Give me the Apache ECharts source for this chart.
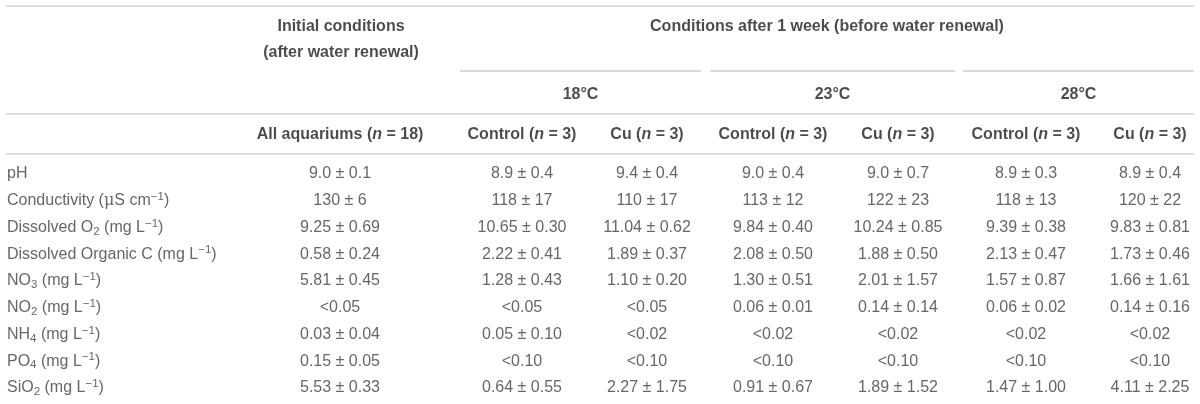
<!DOCTYPE html>
<html><head><meta charset="utf-8">
<script src="https://cdn.jsdelivr.net/npm/echarts@6/dist/echarts.min.js"></script>
<style>html,body{margin:0;padding:0;background:#fff}#c{width:1200px;height:404px}</style>
</head><body><div id="c"></div>
<script>
// ---------- data ----------
const parameters = [
  'pH',
  'Conductivity ({mu|μ}S cm{sup|−1})',
  'Dissolved O{sub|2} (mg L{sup|−1})',
  'Dissolved Organic C (mg L{sup|−1})',
  'NO{sub|3} (mg L{sup|−1})',
  'NO{sub|2} (mg L{sup|−1})',
  'NH{sub|4} (mg L{sup|−1})',
  'PO{sub|4} (mg L{sup|−1})',
  'SiO{sub|2} (mg L{sup|−1})'
];
const initialAll = ['9.0 ± 0.1','130 ± 6','9.25 ± 0.69','0.58 ± 0.24','5.81 ± 0.45','<0.05','0.03 ± 0.04','0.15 ± 0.05','5.53 ± 0.33'];
const control18 = ['8.9 ± 0.4','118 ± 17','10.65 ± 0.30','2.22 ± 0.41','1.28 ± 0.43','<0.05','0.05 ± 0.10','<0.10','0.64 ± 0.55'];
const cu18      = ['9.4 ± 0.4','110 ± 17','11.04 ± 0.62','1.89 ± 0.37','1.10 ± 0.20','<0.05','<0.02','<0.10','2.27 ± 1.75'];
const control23 = ['9.0 ± 0.4','113 ± 12','9.84 ± 0.40','2.08 ± 0.50','1.30 ± 0.51','0.06 ± 0.01','<0.02','<0.10','0.91 ± 0.67'];
const cu23      = ['9.0 ± 0.7','122 ± 23','10.24 ± 0.85','1.88 ± 0.50','2.01 ± 1.57','0.14 ± 0.14','<0.02','<0.10','1.89 ± 1.52'];
const control28 = ['8.9 ± 0.3','118 ± 13','9.39 ± 0.38','2.13 ± 0.47','1.57 ± 0.87','0.06 ± 0.02','<0.02','<0.10','1.47 ± 1.00'];
const cu28      = ['8.9 ± 0.4','120 ± 22','9.83 ± 0.81','1.73 ± 0.46','1.66 ± 1.61','0.14 ± 0.16','<0.02','<0.10','4.11 ± 2.25'];

const initialTitle = ['Initial conditions', '(after water renewal)'];
const periodTitle = 'Conditions after 1 week (before water renewal)';
const temperatures = ['18°C', '23°C', '28°C'];
const treatments = ['All aquariums ({it|n} = 18)', 'Control ({it|n} = 3)', 'Cu ({it|n} = 3)',
  'Control ({it|n} = 3)', 'Cu ({it|n} = 3)', 'Control ({it|n} = 3)', 'Cu ({it|n} = 3)'];

// ---------- layout ----------
const W = 1200, H = 404;
const columns = [initialAll, control18, cu18, control23, cu23, control28, cu28];
const colX = [340, 522, 647, 773, 898, 1026, 1150];
const rowY0 = 174, rowStep = 26.75;
const labelX = 7;
const groupSpans = [[460, 701], [710, 955], [963, 1194]];
const bodyColor = '#404040', headColor = '#1e1e1e';
const FONT = '"Liberation Sans", Arial, sans-serif';
const bodySize = 16, headSize = 16;

const richBody = {
  sub: {fontSize: 11.5, verticalAlign: 'bottom', lineHeight: 12, color: bodyColor, fontFamily: FONT},
  sup: {fontSize: 11.5, verticalAlign: 'top', lineHeight: 12, color: bodyColor, fontFamily: FONT},
  mu: {fontSize: bodySize, color: bodyColor, fontFamily: '"DejaVu Serif", serif'}
};
const richHead = {
  it: {fontStyle: 'italic', fontWeight: 'bold', fontSize: headSize, color: headColor, fontFamily: FONT}
};

function textSeries(items, opts) {
  return {
    type: 'scatter', symbolSize: 0, silent: true, animation: false,
    data: items.map(it => ({value: [it.x, it.y], name: it.text})),
    label: Object.assign({
      show: true, position: 'inside', formatter: p => p.name,
      fontFamily: FONT, fontSize: bodySize, color: bodyColor, lineHeight: 20
    }, opts)
  };
}

const series = [];
// row labels
series.push(textSeries(parameters.map((t, i) => ({x: labelX, y: rowY0 + i * rowStep, text: t})),
  {position: 'right', distance: 0, align: 'left', rich: richBody}));
// value cells
columns.forEach((col, c) => {
  series.push(textSeries(col.map((t, i) => ({x: colX[c], y: rowY0 + i * rowStep, text: t})), {}));
});
// headers
const headOpts = {fontWeight: 'bold', fontSize: headSize, color: headColor, rich: richHead};
series.push(textSeries([
  {x: 341, y: 27, text: initialTitle[0]},
  {x: 341, y: 53, text: initialTitle[1]},
  {x: (groupSpans[0][0] + groupSpans[2][1]) / 2, y: 27, text: periodTitle}
], headOpts));
series.push(textSeries(temperatures.map((t, i) => ({x: (groupSpans[i][0] + groupSpans[i][1]) / 2, y: 95, text: t})), headOpts));
series.push(textSeries(treatments.map((t, i) => ({x: colX[i], y: 135, text: t})), headOpts));

// rules
const graphics = [];
[6, 114, 154].forEach(y => graphics.push({
  type: 'line', shape: {x1: 6, y1: y, x2: 1194, y2: y}, silent: true,
  style: {stroke: '#d6d6d6', lineWidth: 1.5}
}));
groupSpans.forEach(s => graphics.push({
  type: 'line', shape: {x1: s[0], y1: 71, x2: s[1], y2: 71}, silent: true,
  style: {stroke: '#b4b4b4', lineWidth: 1.2}
}));

const chart = echarts.init(document.getElementById('c'), null, {renderer: 'canvas'});
chart.setOption({
  animation: false,
  backgroundColor: '#ffffff',
  grid: {left: 0, right: 0, top: 0, bottom: 0},
  xAxis: {type: 'value', min: 0, max: W, show: false},
  yAxis: {type: 'value', min: 0, max: H, inverse: true, show: false},
  graphic: graphics,
  series: series
});
</script></body></html>
